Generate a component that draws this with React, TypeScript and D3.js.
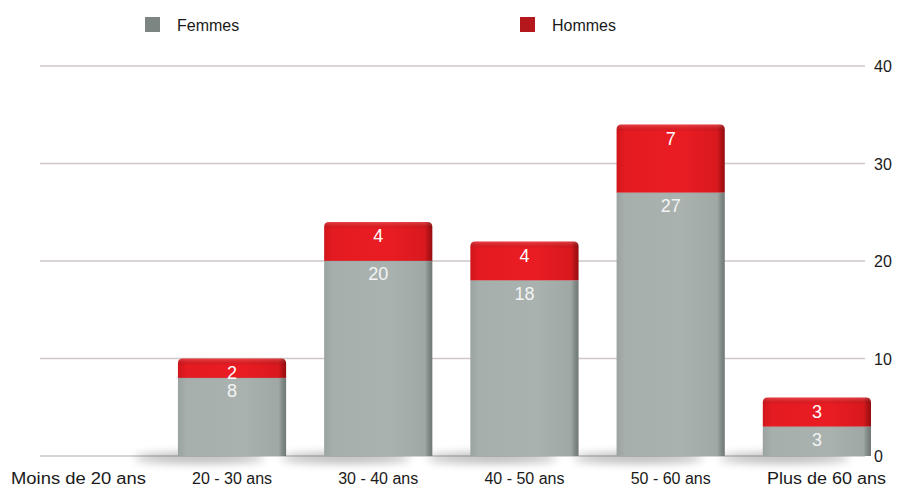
import React from "react";
import * as d3 from "d3";

const categories = ["Moins de 20 ans", "20 - 30 ans", "30 - 40 ans", "40 - 50 ans", "50 - 60 ans", "Plus de 60 ans"];
const femmes = [0, 8, 20, 18, 27, 3];
const hommes = [0, 2, 4, 4, 7, 3];
const yTicks = [0, 10, 20, 30, 40];
const seriesNames = ["Femmes", "Hommes"];

const W = 910;
const H = 490;

export default function App() {
  const x = d3.scaleBand<string>().domain(categories).range([12.7, 890]).paddingInner(0.26).paddingOuter(0.13);
  const y = d3.scaleLinear().domain([0, 40]).range([456, 66]);
  const bw = x.bandwidth();

  const barPath = (x0: number, yTop: number, yBot: number, r: number) => {
    const p = d3.path();
    p.moveTo(x0, yBot);
    p.lineTo(x0, yTop + r);
    p.quadraticCurveTo(x0, yTop, x0 + r, yTop);
    p.lineTo(x0 + bw - r, yTop);
    p.quadraticCurveTo(x0 + bw, yTop, x0 + bw, yTop + r);
    p.lineTo(x0 + bw, yBot);
    p.closePath();
    return p.toString();
  };

  // keep the outermost category labels inside the chart edges
  const last = categories.length - 1;
  const labelX = (c: string, i: number) => {
    if (i === 0) return 11;
    if (i === last) return 886;
    return x(c)! + bw / 2;
  };
  const labelAnchor = (i: number) => (i === 0 ? "start" : i === last ? "end" : "middle");
  const labelLen = (i: number) => (i === 0 ? 135 : i === last ? 119 : undefined);

  return (
    <svg width={W} height={H} style={{ position: "absolute", left: 0, top: 0, background: "#fff" }}
      fontFamily="'Liberation Sans', Arial, Helvetica, sans-serif">
      <defs>
        <linearGradient id="gGray" x1="0" x2="1" y1="0" y2="0">
          <stop offset="0" stopColor="#9aa3a1" />
          <stop offset="0.08" stopColor="#a7afad" />
          <stop offset="0.6" stopColor="#aab2b0" />
          <stop offset="0.93" stopColor="#a0a8a6" />
          <stop offset="0.965" stopColor="#838b89" />
          <stop offset="1" stopColor="#6f7775" />
        </linearGradient>
        <linearGradient id="gRed" x1="0" x2="1" y1="0" y2="0">
          <stop offset="0" stopColor="#d0161b" />
          <stop offset="0.08" stopColor="#e41b21" />
          <stop offset="0.6" stopColor="#ea1c23" />
          <stop offset="0.93" stopColor="#d8191e" />
          <stop offset="0.965" stopColor="#b31216" />
          <stop offset="1" stopColor="#950d10" />
        </linearGradient>
        <linearGradient id="gTop" x1="0" x2="0" y1="0" y2="1">
          <stop offset="0" stopColor="#ffffff" stopOpacity="0.18" />
          <stop offset="1" stopColor="#000000" stopOpacity="0.06" />
        </linearGradient>
        <filter id="blurShadow" x="-50%" y="-200%" width="200%" height="500%">
          <feGaussianBlur stdDeviation="5" />
        </filter>
      </defs>

      {/* legend */}
      {seriesNames.map((s, i) => {
        const lx = i === 0 ? 145 : 520;
        return (
          <g key={s}>
            <rect x={lx} y={17} width={15} height={15} fill={i === 0 ? "#7d8583" : "#b4171c"} />
            <text x={lx + 32} y={31} fontSize={16} fill="#1a1a1a">{s}</text>
          </g>
        );
      })}

      {/* gridlines */}
      {yTicks.map((t) => (
        <line key={t} x1={40} x2={865} y1={y(t)} y2={y(t)} stroke="#cfc6c6" strokeWidth={1.6} />
      ))}
      {/* right axis labels */}
      {yTicks.map((t) => (
        <text key={t} x={874} y={y(t) + 6} fontSize={16} fill="#1a1a1a">{t}</text>
      ))}

      {/* floor shadows */}
      {categories.map((c, i) => {
        const total = femmes[i] + hommes[i];
        if (total === 0) return null;
        const x0 = x(c)!;
        return (
          <ellipse key={c} cx={x0 + bw * 0.2} cy={y(0) + 2} rx={bw * 0.6} ry={5}
            fill="#000" opacity={0.3} filter="url(#blurShadow)" />
        );
      })}

      {/* bars */}
      {categories.map((c, i) => {
        const total = femmes[i] + hommes[i];
        if (total === 0) return null;
        const x0 = x(c)!;
        const yF = y(femmes[i]);
        const yT = y(total);
        return (
          <g key={c}>
            <path d={barPath(x0, yF, y(0), 0)} fill="url(#gGray)" />
            <path d={barPath(x0, yT, yF, 5)} fill="url(#gRed)" />
            <path d={barPath(x0, yT, yT + 6, 5)} fill="url(#gTop)" />
            <line x1={x0} x2={x0 + bw} y1={yF} y2={yF} stroke="#8f9795" strokeOpacity={0.35} strokeWidth={1} />
            <text x={x0 + bw / 2} y={yT + 20} textAnchor="middle" fontSize={18} fill="#fff">{hommes[i]}</text>
            <text x={x0 + bw / 2} y={yF + 19} textAnchor="middle" fontSize={18} fill="#f4f4f4">{femmes[i]}</text>
          </g>
        );
      })}

      {/* category labels */}
      {categories.map((c, i) => (
        <text key={c} x={labelX(c, i)} y={484} textAnchor={labelAnchor(i)} fontSize={16}
          textLength={labelLen(i)} lengthAdjust="spacingAndGlyphs" fill="#1a1a1a">{c}</text>
      ))}
    </svg>
  );
}
